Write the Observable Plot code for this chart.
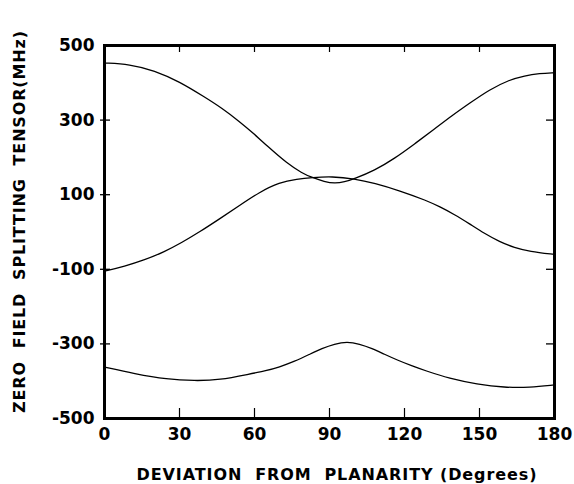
<!DOCTYPE html>
<html>
<head>
<meta charset="utf-8">
<script src="https://cdn.jsdelivr.net/npm/d3@7"></script>
<script src="https://cdn.jsdelivr.net/npm/@observablehq/plot@0.6"></script>
<style>
  body { margin: 0; background: #fff; }
  svg { display: block; }
</style>
</head>
<body>
<div id="chart"></div>
<script>
// Curve 1: high at 0°, dips near 90°, high again at 180°
const curve1X = [0, 10, 20, 30, 40, 47, 54, 60, 65, 73, 79, 83, 88, 92, 96, 100, 108, 116, 124, 132, 139, 146, 154, 162, 168, 174, 180];
const curve1Y = [453, 450, 433, 403, 362, 332, 296, 262, 231, 184, 158, 146, 135, 130, 134, 143, 165, 197, 236, 276, 312, 345, 382, 408, 419, 425, 427];
// Curve 2: rises from about -105 to a maximum near 90°, then falls
const curve2X = [0, 8, 16, 24, 31, 38, 46, 54, 62, 70, 77, 83, 91, 100, 108, 118, 129, 134, 140, 146, 152, 158, 164, 170, 180];
const curve2Y = [-105, -92, -75, -53, -28, 0, 35, 71, 107, 133, 142, 146, 149, 143, 131, 111, 84, 68, 47, 22, -4, -26, -42, -52, -60];
// Curve 3: lowest branch
const curve3X = [0, 12, 25, 36, 46, 58, 64, 70, 76, 82, 87, 92, 97, 102, 107, 112, 117, 123, 128, 138, 149, 160, 170, 180];
const curve3Y = [-362, -380, -395, -399, -397, -381, -373, -362, -347, -328, -312, -300, -294, -300, -312, -328, -343, -359, -371, -393, -408, -417, -417, -410];

const xTickLabels = [0, 30, 60, 90, 120, 150, 180];
const xTickMarks = [30, 60, 90, 120, 150];
const yTickLabels = [500, 300, 100, -100, -300, -500];
const yTickMarks = [300, 100, -100, -300];

const xLabel = "DEVIATION  FROM  PLANARITY (Degrees)";
const yLabel = "ZERO  FIELD  SPLITTING  TENSOR(MHz)";

const toRows = (xs, ys, id) => xs.map((x, i) => ({x, y: ys[i], id}));
const rows = [
  ...toRows(curve1X, curve1Y, "c1"),
  ...toRows(curve2X, curve2Y, "c2"),
  ...toRows(curve3X, curve3Y, "c3")
];

const font = "'DejaVu Sans', sans-serif";
const W = 574, H = 484;
const mL = 104, mR = 20, mT = 45, mB = 66;
const innerH = H - mT - mB;
const innerW = W - mL - mR;

const chart = Plot.plot({
  width: W,
  height: H,
  marginLeft: mL,
  marginRight: mR,
  marginTop: mT,
  marginBottom: mB,
  style: {fontFamily: font, background: "#fff", color: "#000"},
  x: {domain: [0, 180]},
  y: {domain: [-500, 500]},
  marks: [
    Plot.line(rows, {x: "x", y: "y", z: "id", curve: "basis", stroke: "#000", strokeWidth: 1.3}),
    // inward tick marks
    Plot.tickX(xTickMarks, {x: d => d, insetTop: innerH - 10, stroke: "#000", strokeWidth: 1.2}),
    Plot.tickX(xTickMarks, {x: d => d, insetBottom: innerH - 7, stroke: "#000", strokeWidth: 1.2}),
    Plot.tickY(yTickMarks, {y: d => d, insetRight: innerW - 10, dx: -4, stroke: "#000", strokeWidth: 1.3}),
    Plot.tickY(yTickMarks, {y: d => d, insetLeft: innerW - 8, stroke: "#000", strokeWidth: 1.3}),
    Plot.frame({stroke: "#000", strokeWidth: 3}),
    Plot.axisX({ticks: xTickLabels, tickSize: 0, tickPadding: 9, label: null,
      fontSize: 17, fontWeight: "bold", tickFormat: d => String(d)}),
    Plot.axisY({ticks: yTickLabels, tickSize: 0, tickPadding: 10, label: null,
      fontSize: 17, fontWeight: "bold", tickFormat: d => String(d)}),
    Plot.text([xLabel], {frameAnchor: "bottom", lineAnchor: "middle", textAnchor: "middle", dy: 56, dx: 7,
      fontSize: 16, fontWeight: "bold", fill: "#000"}),
    Plot.text([yLabel], {frameAnchor: "left", lineAnchor: "middle", textAnchor: "middle", dx: -85, dy: -10, rotate: -90,
      fontSize: 16, fontWeight: "bold", fill: "#000"})
  ]
});

// stretch the axis titles to the lengths seen in the reference
d3.select(chart).selectAll("text").each(function() {
  const t = d3.select(this);
  const s = t.text();
  if (s === xLabel) t.attr("textLength", 400).attr("lengthAdjust", "spacing");
  if (s === yLabel) t.attr("textLength", 382).attr("lengthAdjust", "spacing");
});

document.getElementById("chart").appendChild(chart);
</script>
</body>
</html>
